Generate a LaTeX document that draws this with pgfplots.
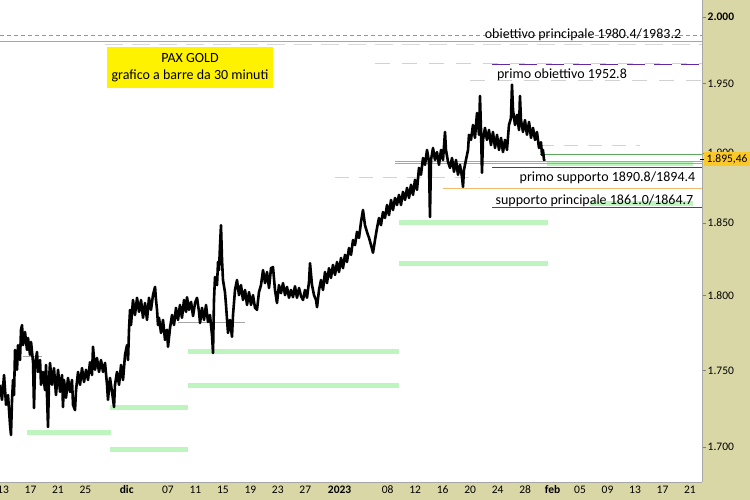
\documentclass[border=0pt]{standalone}
\usepackage{fontspec}
\setmainfont{Carlito}
\usepackage{pgfplots}
\pgfplotsset{compat=1.18}
\definecolor{khaki}{RGB}{217,215,166}
\definecolor{lvgreen}{RGB}{190,245,190}
\definecolor{lvpurple}{RGB}{100,40,160}
\definecolor{lvpink}{RGB}{225,110,160}
\definecolor{lvorange}{RGB}{240,185,110}
\definecolor{lvdgreen}{RGB}{90,170,90}
\definecolor{lvgold}{RGB}{250,200,40}

\begin{document}
\begin{tikzpicture}[x=1pt,y=1pt]
\fill[khaki] (0,0) rectangle (750,500);
\begin{axis}[
  at={(0pt,18pt)}, anchor=south west,
  scale only axis, width=702pt, height=482pt,
  xmin=-0.44, xmax=101.75,
  % scala logaritmica dei prezzi
  y coord trafo/.code={\pgfmathparse{ln(#1)}},
  y coord inv trafo/.code={\pgfmathparse{exp(#1)}},
  ymin=1677.7, ymax=2012.9,
  axis background/.style={fill=white},
  axis x line*=bottom, axis y line*=right,
  axis line style={-, draw=gray!70, line width=0.6pt},
  ytick={1700,1750,1800,1850,1900,1950,2000},
  yticklabels={1.700,1.750,1.800,1.850,1.900,1.950,\textbf{2.000}},
  xtick={0,4,8,12,18,24,28,32,36,40,44,49,56,60,64,68,72,76,80,84,88,92,96,100},
  xticklabels={13,17,21,25,\textbf{dic},07,11,15,19,23,27,\textbf{2023},08,12,16,20,24,28,\textbf{feb},05,09,13,17,21},
  tick align=outside, major tick length=4pt,
  y tick style={gray, line width=0.6pt},
  x tick style={draw=none},
  minor tick num=0,
  yticklabel style={anchor=west, inner sep=0pt, xshift=1.5pt},
  xticklabel style={anchor=base, inner sep=0pt, yshift=-8pt},
  ticklabel style={font=\fontsize{11.5}{13}\selectfont},
  /pgf/number format/assume math mode=true,
]
% livelli orizzontali
\addplot[lvgreen, line width=5pt] coordinates {(3.49,1709.7) (15.72,1709.7)};
\addplot[lvgreen, line width=5pt] coordinates {(15.58,1698.1) (26.93,1698.1)};
\addplot[lvgreen, line width=5pt] coordinates {(15.58,1725.3) (26.93,1725.3)};
\addplot[lvgreen, line width=5pt] coordinates {(26.93,1762.8) (57.64,1762.8)};
\addplot[lvgreen, line width=5pt] coordinates {(26.93,1739.7) (57.64,1739.7)};
\addplot[lvgreen, line width=5pt] coordinates {(57.64,1850.9) (79.33,1850.9)};
\addplot[lvgreen, line width=5pt] coordinates {(57.64,1821.8) (79.33,1821.8)};
\addplot[lvgreen, line width=5pt] coordinates {(79.2,1891.9) (100.4,1891.9)};
\addplot[lvgreen, line width=5pt] coordinates {(85.4,1864.2) (100.4,1864.2)};
\addplot[lvdgreen, line width=0.8pt] coordinates {(78.17,1899.1) (101.75,1899.1)};
\addplot[gray!70, line width=0.7pt] coordinates {(2.9,1759.5) (5.7,1759.5)};
\addplot[gray!70, line width=0.7pt] coordinates {(25.5,1782.2) (35.2,1782.2)};
\addplot[gray!70, line width=0.7pt] coordinates {(57.1,1894.0) (101.75,1894.0)};
\addplot[gray!70, line width=0.7pt] coordinates {(57.1,1892.6) (101.75,1892.6)};
\addplot[gray!35, line width=0.8pt, dash pattern=on 14pt off 10pt] coordinates {(78.2,1905.6) (92.7,1905.6)};
\addplot[gray!35, line width=0.8pt, dash pattern=on 14pt off 10pt] coordinates {(48.3,1881.9) (69.4,1881.9)};
\addplot[lvorange, line width=0.8pt] coordinates {(64.0,1874.1) (101.75,1874.1)};
\addplot[lvpurple, line width=1pt] coordinates {(71.2,1889.1) (101.75,1889.1)};
\addplot[lvpurple, line width=1pt] coordinates {(71.2,1860.7) (101.75,1860.7)};
\addplot[lvpink, line width=0.8pt, dash pattern=on 4pt off 3pt] coordinates {(-0.44,1986.4) (101.75,1986.4)};
\addplot[gray!70, line width=0.8pt] coordinates {(-0.44,1981.6) (101.75,1981.6)};
\addplot[gray!30, line width=0.8pt, dash pattern=on 18pt off 9pt] coordinates {(14.8,1979.7) (101.75,1979.7)};
\addplot[gray!35, line width=0.8pt, dash pattern=on 15pt off 12pt] coordinates {(54.1,1965.5) (101.75,1965.5)};
\addplot[lvpurple, line width=1.2pt, dash pattern=on 18pt off 9pt] coordinates {(71.2,1964.8) (101.75,1964.8)};
\addplot[gray!35, line width=0.8pt, dash pattern=on 15pt off 12pt] coordinates {(68.0,1952.2) (101.75,1952.2)};
% barre da 30 minuti (massimi e minimi)
\addplot[black, line width=2.6pt, line join=round] coordinates {
(-0.44,1740.3) (-0.15,1730.5) (0.15,1746.9) (0.44,1727.2) (0.73,1733.7) (1.02,1714.2) (1.16,1707.7) (1.31,1730.5)
(1.46,1743.6) (1.60,1733.7) (1.75,1763.5) (2.04,1750.2) (2.18,1766.8) (2.47,1756.8) (2.62,1776.9) (2.77,1780.2)
(2.91,1766.8) (3.20,1775.5) (3.49,1763.5) (3.64,1771.5) (3.93,1760.2) (4.08,1768.8) (4.37,1755.5) (4.51,1725.2)
(4.66,1753.5) (4.95,1762.2) (5.09,1748.9) (5.39,1756.8) (5.53,1740.3) (5.82,1748.9) (6.11,1737.0) (6.26,1753.5)
(6.40,1733.7) (6.55,1712.9) (6.70,1743.6) (6.84,1754.8) (7.13,1740.3) (7.42,1751.5) (7.71,1733.7) (8.01,1750.2)
(8.30,1735.7) (8.59,1746.9) (8.73,1725.9) (8.88,1743.6) (9.17,1731.8) (9.46,1744.9) (9.75,1735.7) (10.04,1743.6)
(10.19,1727.2) (10.48,1723.9) (10.63,1737.0) (10.92,1748.9) (11.21,1740.3) (11.50,1751.5) (11.79,1742.3) (12.08,1750.2)
(12.37,1743.6) (12.66,1755.5) (12.95,1746.9) (13.10,1765.5) (13.39,1750.2) (13.68,1758.1) (13.97,1748.9) (14.26,1756.8)
(14.56,1748.9) (14.85,1754.8) (15.14,1740.3) (15.28,1730.5) (15.57,1744.9) (15.87,1735.7) (16.16,1725.9) (16.30,1740.3)
(16.59,1748.9) (16.89,1740.3) (17.18,1753.5) (17.47,1743.6) (17.76,1760.2) (18.05,1766.8) (18.20,1756.8) (18.34,1776.9)
(18.49,1790.4) (18.63,1780.2) (18.92,1797.1) (19.21,1787.0) (19.51,1798.5) (19.80,1789.0) (20.09,1797.1) (20.38,1785.0)
(20.67,1795.1) (20.96,1783.6) (21.25,1798.5) (21.54,1790.4) (21.83,1800.5) (22.13,1805.9) (22.27,1797.1) (22.42,1790.4)
(22.56,1780.2) (22.71,1785.0) (23.00,1774.9) (23.29,1783.6) (23.58,1770.2) (23.87,1776.9) (24.02,1765.5) (24.31,1778.2)
(24.60,1787.0) (24.89,1780.2) (25.18,1791.7) (25.47,1783.6) (25.76,1793.7) (26.05,1785.0) (26.35,1797.1) (26.64,1789.0)
(26.78,1799.1) (27.07,1790.4) (27.37,1795.8) (27.66,1786.3) (27.95,1795.1) (28.24,1798.5) (28.53,1789.0) (28.68,1781.6)
(28.97,1791.7) (29.26,1783.6) (29.55,1793.7) (29.84,1782.2) (30.13,1787.0) (30.42,1773.5) (30.57,1761.5) (30.71,1797.1)
(30.86,1812.8) (31.15,1807.3) (31.30,1823.1) (31.44,1817.6) (31.59,1834.9) (31.73,1848.8) (31.88,1824.5) (32.02,1810.8)
(32.31,1802.5) (32.46,1793.7) (32.75,1774.9) (33.04,1783.6) (33.33,1772.2) (33.48,1787.0) (33.77,1803.9) (34.06,1810.8)
(34.35,1800.5) (34.64,1807.3) (34.93,1797.1) (35.23,1803.9) (35.52,1793.7) (35.81,1802.5) (36.10,1793.7) (36.39,1800.5)
(36.68,1791.7) (36.97,1790.4) (37.26,1802.5) (37.55,1807.3) (37.85,1817.6) (38.14,1808.7) (38.43,1816.2) (38.72,1805.2)
(39.01,1819.0) (39.30,1819.7) (39.59,1803.9) (39.88,1795.1) (40.17,1807.3) (40.47,1801.8) (40.76,1808.7) (41.05,1800.5)
(41.34,1805.9) (41.63,1798.5) (41.92,1803.9) (42.21,1799.1) (42.50,1806.6) (42.79,1798.5) (43.09,1805.2) (43.38,1799.8)
(43.67,1797.1) (43.96,1803.9) (44.25,1798.5) (44.54,1809.4) (44.69,1822.4) (44.98,1807.3) (45.27,1800.5) (45.56,1797.1)
(45.71,1792.4) (46.00,1803.9) (46.29,1810.8) (46.58,1803.9) (46.87,1816.2) (47.16,1808.7) (47.45,1819.0) (47.74,1812.1)
(48.03,1821.1) (48.33,1814.2) (48.62,1823.1) (48.91,1816.2) (49.20,1825.9) (49.49,1819.0) (49.78,1828.0) (50.07,1823.1)
(50.36,1832.8) (50.66,1828.0) (50.95,1838.4) (51.24,1834.9) (51.53,1843.9) (51.82,1839.7) (52.11,1850.9) (52.40,1859.3)
(52.69,1848.8) (52.98,1843.9) (53.28,1839.7) (53.57,1834.9) (53.86,1829.4) (54.15,1838.4) (54.44,1846.7) (54.73,1853.7)
(55.02,1848.8) (55.31,1857.9) (55.60,1853.7) (55.90,1862.8) (56.19,1855.8) (56.48,1866.4) (56.77,1859.3) (57.06,1867.8)
(57.35,1862.8) (57.64,1869.9) (57.93,1862.8) (58.22,1872.0) (58.52,1866.4) (58.81,1874.8) (59.10,1867.8) (59.39,1877.0)
(59.68,1869.9) (59.97,1880.5) (60.26,1873.4) (60.55,1889.0) (60.84,1884.1) (61.14,1896.2) (61.43,1891.2) (61.72,1902.0)
(62.01,1893.4) (62.15,1854.4) (62.30,1894.8) (62.59,1903.4) (62.88,1894.8) (63.17,1900.6) (63.46,1891.2) (63.76,1902.0)
(64.05,1894.8) (64.34,1915.0) (64.48,1902.0) (64.78,1893.4) (65.07,1889.0) (65.36,1896.2) (65.65,1886.2) (65.94,1894.8)
(66.23,1884.1) (66.52,1891.2) (66.81,1882.6) (66.96,1875.5) (67.10,1887.6) (67.39,1894.8) (67.69,1902.0) (67.83,1912.8)
(68.12,1909.2) (68.41,1920.0) (68.70,1910.6) (69.00,1928.7) (69.29,1912.8) (69.43,1941.2) (69.58,1916.4) (69.72,1885.5)
(69.87,1909.2) (70.16,1917.8) (70.45,1909.2) (70.74,1916.4) (71.03,1905.6) (71.32,1915.0) (71.62,1903.4) (71.91,1912.8)
(72.20,1902.0) (72.49,1910.6) (72.78,1900.6) (73.07,1909.2) (73.36,1902.0) (73.65,1920.0) (73.94,1925.1) (74.09,1949.3)
(74.24,1930.9) (74.53,1920.0) (74.82,1927.3) (75.11,1916.4) (75.25,1941.2) (75.40,1923.6) (75.69,1915.0) (75.98,1923.6)
(76.27,1912.8) (76.57,1922.2) (76.86,1910.6) (77.15,1917.8) (77.44,1909.2) (77.73,1915.0) (78.02,1903.4) (78.31,1907.7)
(78.46,1898.4) (78.60,1902.0) (78.75,1894.8) (78.89,1895.5)
};
\end{axis}
% prezzo corrente
\draw[black, line width=0.6pt] (700,341) -- (705,341);
\node[fill=lvgold, anchor=west, inner sep=2.5pt, font=\fontsize{11.5}{13}\selectfont] at (704,341) {1.895,46};
% annotazioni
\node[font=\fontsize{14}{17}\selectfont] at (583,465) {obiettivo principale 1980.4/1983.2};
\node[font=\fontsize{14}{17}\selectfont] at (562,425) {primo obiettivo 1952.8};
\node[font=\fontsize{14}{17}\selectfont] at (607.5,322) {primo supporto 1890.8/1894.4};
\node[font=\fontsize{14}{17}\selectfont] at (594.5,299) {supporto principale 1861.0/1864.7};
\fill[yellow] (107,412) rectangle (273,453);
\node[font=\fontsize{14}{17}\selectfont, align=center] at (190,432.5) {PAX GOLD\\grafico a barre da 30 minuti};
\pgfresetboundingbox
\useasboundingbox (0,0) rectangle (750,500);
\end{tikzpicture}
\end{document}
